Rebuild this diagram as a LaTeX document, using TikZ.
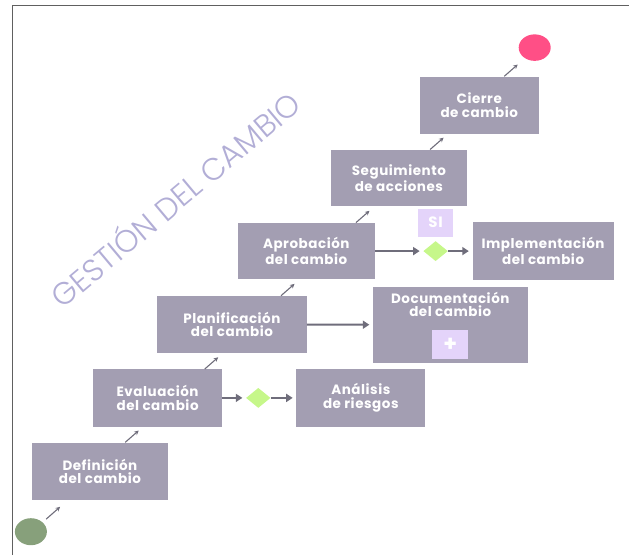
\documentclass[tikz,border=0pt]{standalone}
\usepackage{fontspec}
\usetikzlibrary{calc, shapes.geometric, arrows.meta}
\newfontfamily\boxfont{Poppins Bold}[LetterSpace=4]
\newfontfamily\titlefont{Poppins Light}
\definecolor{boxgray}{HTML}{A39EB2}
\definecolor{arrowgray}{HTML}{6F6D7B}
\definecolor{lilac}{HTML}{E4D4FA}
\definecolor{limegreen}{HTML}{C6F78A}
\definecolor{startgreen}{HTML}{87A07B}
\definecolor{endpink}{HTML}{FF4F86}
\definecolor{titlelilac}{HTML}{B2AED6}

\begin{document}
\begin{tikzpicture}[x=1pt, y=-1pt,
		box/.style={rectangle, fill=boxgray, inner sep=0pt, text=white, align=center,
			font=\boxfont\fontsize{13.5}{13.5}\selectfont},
		tag/.style={rectangle, fill=lilac, inner sep=0pt, text=white,
			font=\boxfont\fontsize{15}{15}\selectfont},
		gate/.style={diamond, fill=limegreen, inner sep=0pt, minimum width=24.5, minimum height=20},
		stepline/.style={arrowgray, line width=1.1pt, -{Stealth[length=4.5pt,width=4.5pt]}},
		flowline/.style={arrowgray, line width=2pt, -{Triangle[length=6.5pt,width=8pt]}, shorten >=3.5pt}]
	\useasboundingbox (0,0) rectangle (629,555);
	
	% Draw the frame
	\draw[line width=1.2pt, gray!75!black] (12.8,555) |- (629,5.7);
	
	% Draw the title
	\node[rotate=40, text=titlelilac, font=\titlefont\fontsize{31}{31}\selectfont] (title) at (174,198) {GESTIÓN DEL CAMBIO};
	
	% Draw the start and end points
	\node[ellipse, fill=startgreen, minimum width=32, minimum height=27, inner sep=0pt] (start) at (30.9,531.7) {};
	\node[ellipse, fill=endpink, minimum width=32, minimum height=26.5, inner sep=0pt] (end) at (534.7,47.6) {};
	
	% Draw the steps
	\node[box, minimum width=135.6, minimum height=57.3] (def) at (99.9,471.2) {Definición\\del cambio};
	\node[box, minimum width=128.3, minimum height=57.3] (eva) at (157.6,397.9) {Evaluación\\del cambio};
	\node[box, minimum width=128.8, minimum height=57.3] (ana) at (360.8,397.9) {Análisis\\de riesgos};
	\node[box, minimum width=149.3, minimum height=57.4] (pla) at (231.9,324.6) {Planificación\\del cambio};
	\node[box, minimum width=154.5, minimum height=76.1] (doc) at (450.3,324.8) {};
	\node[box, anchor=north] (doctext) at (450.3,292) {Documentación\\del cambio};
	\node[box, minimum width=136.8, minimum height=56.6] (apr) at (306.3,251.1) {Aprobación\\del cambio};
	\node[box, minimum width=141.2, minimum height=57.3] (imp) at (543.1,251.1) {Implementación\\del cambio};
	\node[box, minimum width=135.2, minimum height=56.6] (seg) at (398.9,178) {Seguimiento\\de acciones};
	\node[box, minimum width=119.5, minimum height=57] (cie) at (479.3,105) {Cierre\\de cambio};
	
	% Draw the gates and tags
	\node[gate] (gate1) at (258.3,397.9) {};
	\node[gate] (gate2) at (435.6,251.1) {};
	\node[tag, minimum width=35.3, minimum height=27.7] (si) at (435.6,222.7) {SI};
	\node[tag, minimum width=35.7, minimum height=29, font=\boxfont\fontsize{22}{22}\selectfont] (plus) at (450.3,344.8) {+};
	
	% Draw the step arrows
	\draw[stepline] ($(start.north east)+(3.8,-2.9)$) -- ++(14,-12.3);
	\foreach \a/\f in {def/0.686, eva/0.866, pla/0.828, apr/0.862, seg/0.73, cie/0.708}
	\draw[stepline] ($(\a.north west)!\f!(\a.north east)$) -- ++(13.5,-11.8);
	
	% Draw the flow arrows
	\draw[flowline] (eva) -- (gate1);
	\draw[flowline] (gate1) -- (ana);
	\draw[flowline] (pla) -- (doc);
	\draw[flowline] (apr) -- (gate2);
	\draw[flowline] (gate2) -- (imp);
\end{tikzpicture}
\end{document}
